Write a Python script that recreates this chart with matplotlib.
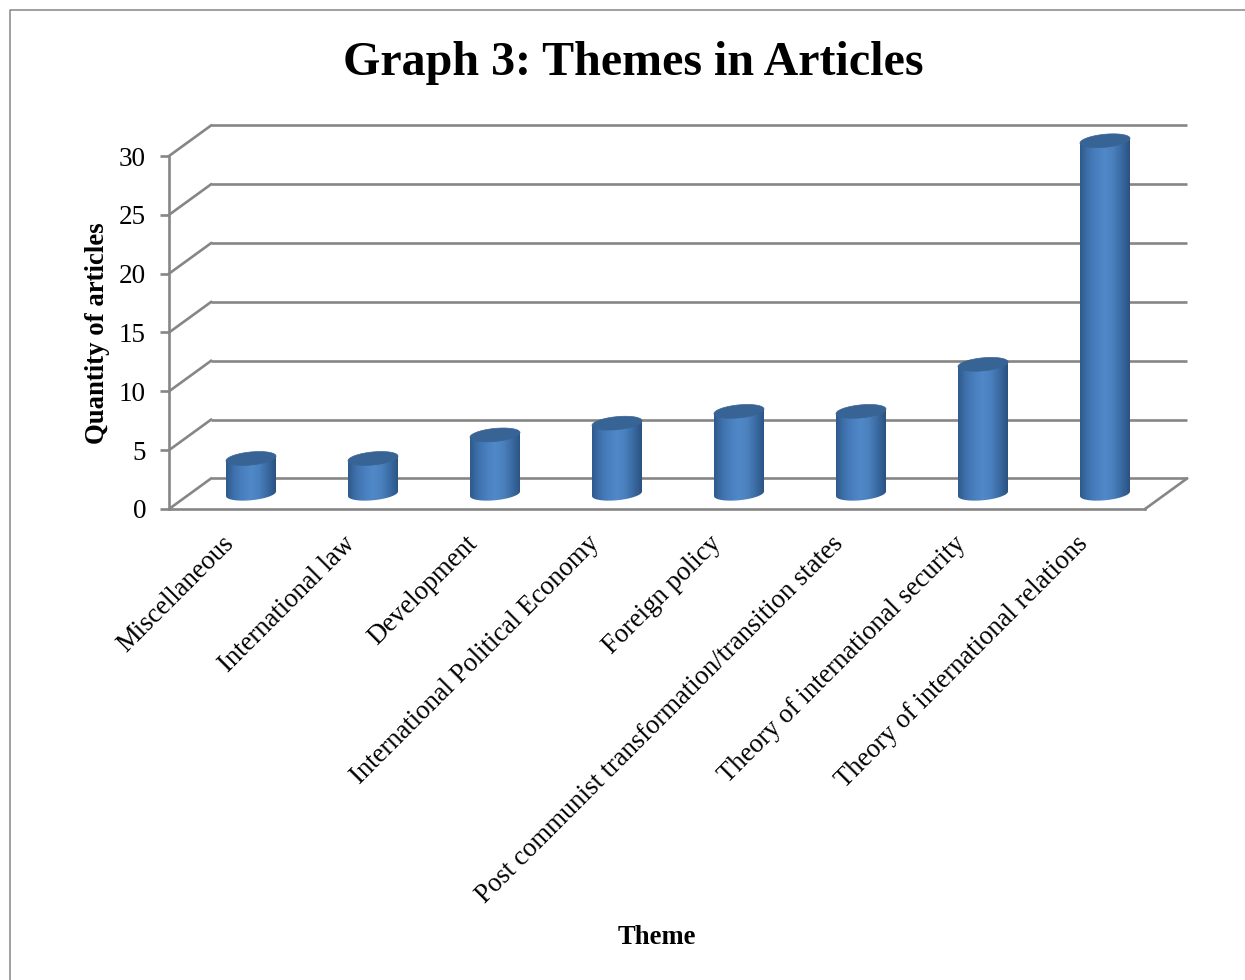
import numpy as np
import matplotlib
matplotlib.use('Agg')
from matplotlib import pyplot as plt
from matplotlib.colors import LinearSegmentedColormap
from matplotlib.lines import Line2D
from matplotlib.patches import Polygon
from matplotlib.transforms import ScaledTranslation

themes = ['Miscellaneous', 'International law', 'Development',
          'International Political Economy', 'Foreign policy',
          'Post communist transformation/transition states',
          'Theory of international security',
          'Theory of international relations']
quantity = [3, 3, 5, 6, 7, 7, 11, 30]
y_ticks = [0, 5, 10, 15, 20, 25, 30]

W, H = 1245, 980
GREY = '#868686'
plt.rcParams['font.family'] = ['Liberation Serif', 'DejaVu Serif']

fig = plt.figure(figsize=(W / 100, H / 100), dpi=100, facecolor='white')
# front plane of the fake 3d box, in pixels of the reference
left, right, top, bottom = 169, 1145, 156, 509
ax = fig.add_axes([left / W, 1 - bottom / H, (right - left) / W, (bottom - top) / H])
ax.patch.set_alpha(0)
ax.set_xlim(0, len(themes))
ax.set_ylim(0, 30)

# pixel sizes turned into data units
px_x = len(themes) / (right - left)
px_y = 30 / (bottom - top)
depth_x, depth_y = 42 * px_x, 30.5 * px_y

for s in ['top', 'right']:
    ax.spines[s].set_visible(False)
for s in ['left', 'bottom']:
    ax.spines[s].set_color(GREY)
    ax.spines[s].set_linewidth(1.9)

# back wall, floor and side wall lines
for v in y_ticks:
    ax.plot([depth_x, len(themes) + depth_x], [v + depth_y, v + depth_y],
            color=GREY, lw=1.9, clip_on=False, zorder=1, solid_capstyle='butt')
    ax.plot([0, depth_x], [v, v + depth_y], color=GREY, lw=1.9, clip_on=False, zorder=1)
ax.plot([len(themes), len(themes) + depth_x], [0, depth_y], color=GREY, lw=1.9,
        clip_on=False, zorder=1)

body = LinearSegmentedColormap.from_list(
    'body', ['#2f5a8c', '#3f72ad', '#4a80c0', '#5088c8', '#4a80bd', '#3a6aa2', '#2a5280'])
grad = np.linspace(0, 1, 128).reshape(1, -1)
half_w = 25 * px_x
ell_b = 6.5 * px_y
ell_k = 2.3 * px_y
t = np.linspace(0, 2 * np.pi, 90)

for i, q in enumerate(quantity):
    cx = i + 0.5 + depth_x / 2
    base = depth_y / 2
    # bottom half of the lower ellipse, then up the far side to the top
    t_low = np.linspace(np.pi, 2 * np.pi, 45)
    xs = cx + half_w * np.cos(t_low)
    ys = base + ell_b * np.sin(t_low) + ell_k * np.cos(t_low)
    xs = np.concatenate([xs, [cx + half_w, cx - half_w]])
    ys = np.concatenate([ys, [base + q + ell_k, base + q - ell_k]])
    outline = Polygon(np.column_stack([xs, ys]), closed=True, transform=ax.transData,
                      fc='none', ec='none', clip_on=False)
    ax.add_patch(outline)
    im = ax.imshow(grad, extent=[cx - half_w, cx + half_w, -1, base + q + 1], cmap=body,
                   aspect='auto', zorder=3)
    im.set_clip_path(outline)
    im.set_clip_box(fig.bbox)
    cap = np.column_stack([cx + half_w * np.cos(t),
                           base + q + ell_b * np.sin(t) + ell_k * np.cos(t)])
    ax.add_patch(Polygon(cap, closed=True, fc='#376494', ec='#376494', lw=0.5, zorder=4,
                         clip_on=False))

ax.set_xlim(0, len(themes))
ax.set_ylim(0, 30)
ax.set_yticks(y_ticks)
ax.tick_params(axis='y', length=6.5, width=1.9, color=GREY, labelsize=19.5, pad=10,
               labelcolor='black')
ax.set_xticks(np.arange(len(themes)) + 0.5)
ax.set_xticklabels(themes, rotation=45, ha='right', va='top', rotation_mode='anchor',
                   fontsize=19.2)
ax.tick_params(axis='x', length=0, pad=16)
for lab in ax.get_xticklabels():
    lab.set_transform(lab.get_transform() + ScaledTranslation(-9 / 100, 0, fig.dpi_scale_trans))

fig.text(633.5 / W, 1 - 63 / H, 'Graph 3: Themes in Articles', ha='center', va='center',
         fontsize=34.6, fontweight='bold')
fig.text(98 / W, 1 - 333 / H, 'Quantity of articles', ha='center', va='center',
         rotation=90, fontsize=19.3, fontweight='bold')
fig.text(656.5 / W, 1 - 937 / H, 'Theme', ha='center', va='center', fontsize=19.2,
         fontweight='bold')

# chart area border, left and top only show in the crop
fig.add_artist(Line2D([9.5 / W, 9.5 / W, 1], [0, 1 - 10.5 / H, 1 - 10.5 / H],
                      color=GREY, lw=1.1, transform=fig.transFigure))

fig.savefig('out.png', dpi=100, facecolor='white')
